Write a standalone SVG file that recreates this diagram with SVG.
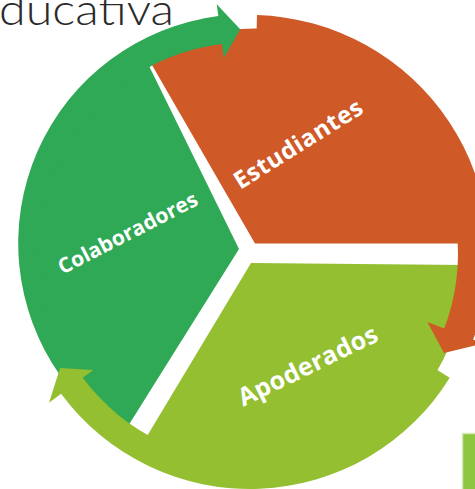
<svg xmlns="http://www.w3.org/2000/svg" width="475" height="489" viewBox="0 0 475 489">
<style>
.or{fill:#CF5A27}
.gr{fill:#2FA955}
.lg{fill:#93BF30}
.lbl{font-family:"Open Sans","Liberation Sans",sans-serif;font-weight:700;fill:#ffffff}
.title{font-family:"Lato","DejaVu Sans",sans-serif;font-weight:300;fill:#2b2b2b}
</style>
<rect width="475" height="489" fill="#ffffff"/>
<text class="title" x="-1" y="25" font-size="44" textLength="175" lengthAdjust="spacingAndGlyphs">ducativa</text>
<g id="estudiantes">
<path class="or" d="M255,243.5 L147.5,57.3 A215,215 0 0,1 470,243.5 Z"/>
<text class="lbl" font-size="24" text-anchor="middle" textLength="147" transform="translate(302.5,151) rotate(-32)">Estudiantes</text>
</g>
<g id="colaboradores">
<path class="gr" d="M239,249 L144.5,56.8 A214,214 0 0,0 124,432.5 Z"/>
<text class="lbl" font-size="21" text-anchor="middle" textLength="154" transform="translate(131,239.5) rotate(-27.2)">Colaboradores</text>
</g>
<g id="apoderados">
<path class="lg" d="M251,263 L466,265 A214,214 0 0,1 140.8,446.4 Z"/>
<text class="lbl" font-size="25" text-anchor="middle" textLength="152" transform="translate(311.5,373.5) rotate(-26)">Apoderados</text>
</g>
<g id="box">
<rect x="462.5" y="433.5" width="20" height="60" fill="#8DC63F" stroke="#d4e9b8" stroke-width="1.5"/>
</g>
<g id="connectors">
<path class="gr" d="M218.3,16.1 A229,229 0 0,0 59.9,375 L80,376 A209,209 0 0,1 222,43.9 L223.8,57.7 L240.2,29.2 L216.7,4.2 Z"/>
<path class="lg" d="M449.7,377.8 A235,235 0 0,1 61.1,393.8 L49,402.7 L60.1,368.1 L93.2,370 L82.8,377.7 A208,208 0 0,0 426.8,363.6 Z"/>
<path class="or" d="M257,15.1 A239,239 0 0,1 473.1,339.6 L483.4,343.6 L444,353 L427.4,322.1 L444.2,328.5 A208,208 0 0,0 256.2,46.1 Z"/>
</g>
</svg>
